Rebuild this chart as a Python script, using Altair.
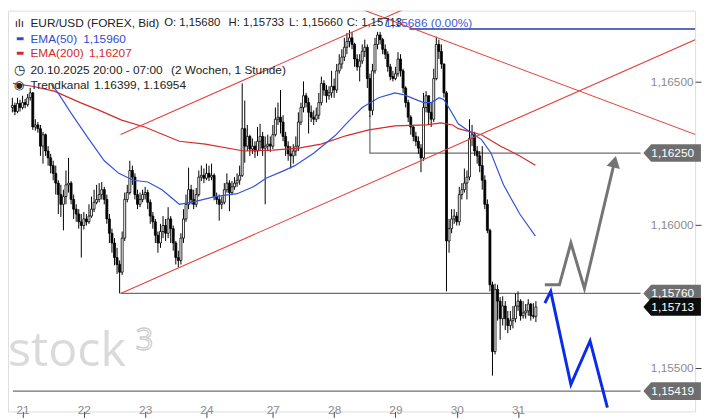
import altair as alt
import pandas as pd

# ---------------- data (hourly candles, index 0 = 20.10.2025 20:00) ----------------
open0 = 1.16409
close = [1.16416,1.16395,1.16423,1.16409,1.16426,1.16419,1.16443,1.16460,1.16341,1.16348,
         1.16335,1.16274,1.16314,1.16257,1.16233,1.16206,1.16179,1.16145,1.16105,1.16071,
         1.16098,1.16139,1.16145,1.16088,1.16054,1.16037,1.16010,1.15997,1.16020,1.16010,
         1.16030,1.16054,1.16078,1.16088,1.16105,1.16122,1.16088,1.16020,1.15970,1.15936,
         1.15885,1.15861,1.15834,1.15953,1.16088,1.16112,1.16189,1.16166,1.16105,1.16071,
         1.16088,1.16105,1.16112,1.16078,1.16030,1.16010,1.15963,1.15936,1.15976,1.15997,
         1.15970,1.16020,1.15986,1.15936,1.15885,1.15875,1.15953,1.16020,1.16071,1.16122,
         1.16088,1.16071,1.16105,1.16166,1.16172,1.16162,1.16179,1.16166,1.16172,1.16098,
         1.16088,1.16071,1.16078,1.16122,1.16145,1.16112,1.16132,1.16145,1.16155,1.16172,
         1.16335,1.16274,1.16308,1.16264,1.16274,1.16257,1.16291,1.16308,1.16267,1.16274,
         1.16281,1.16274,1.16314,1.16368,1.16375,1.16358,1.16308,1.16274,1.16247,1.16240,
         1.16257,1.16274,1.16358,1.16409,1.16450,1.16426,1.16392,1.16375,1.16368,1.16382,
         1.16426,1.16493,1.16470,1.16450,1.16460,1.16483,1.16470,1.16537,1.16561,1.16585,
         1.16619,1.16639,1.16652,1.16629,1.16578,1.16551,1.16571,1.16605,1.16619,1.16510,
         1.16399,1.16537,1.16629,1.16662,1.16646,1.16612,1.16595,1.16551,1.16517,1.16510,
         1.16527,1.16578,1.16537,1.16477,1.16426,1.16375,1.16341,1.16308,1.16291,1.16267,
         1.16233,1.16409,1.16450,1.16392,1.16368,1.16510,1.16629,1.16605,1.16561,1.16460,
         1.15943,1.15986,1.16020,1.16030,1.16010,1.16105,1.16122,1.16145,1.16166,1.16301,
         1.16314,1.16257,1.16240,1.16206,1.16155,1.16071,1.15980,1.15790,1.15557,1.15774,
         1.15733,1.15672,1.15716,1.15672,1.15648,1.15665,1.15672,1.15716,1.15733,1.15682,
         1.15692,1.15699,1.15723,1.15682,1.15680,1.15713]
high = [1.16443,1.16426,1.16443,1.16436,1.16450,1.16439,1.16456,1.16477,1.16463,1.16368,
        1.16358,1.16348,1.16324,1.16318,1.16274,1.16247,1.16223,1.16206,1.16155,1.16139,
        1.16122,1.16189,1.16233,1.16152,1.16105,1.16071,1.16054,1.16037,1.16044,1.16037,
        1.16071,1.16098,1.16122,1.16139,1.16145,1.16149,1.16132,1.16105,1.16037,1.15986,
        1.15953,1.15919,1.15875,1.15976,1.16112,1.16139,1.16223,1.16206,1.16179,1.16122,
        1.16112,1.16122,1.16132,1.16122,1.16088,1.16044,1.16020,1.15976,1.16003,1.16030,
        1.16020,1.16061,1.16030,1.15997,1.15943,1.15909,1.15970,1.16054,1.16105,1.16199,
        1.16139,1.16122,1.16128,1.16189,1.16206,1.16196,1.16213,1.16206,1.16213,1.16179,
        1.16112,1.16105,1.16098,1.16145,1.16179,1.16155,1.16152,1.16166,1.16179,1.16206,
        1.16493,1.16433,1.16348,1.16314,1.16301,1.16291,1.16341,1.16352,1.16324,1.16308,
        1.16314,1.16308,1.16348,1.16409,1.16426,1.16470,1.16382,1.16324,1.16291,1.16274,
        1.16281,1.16308,1.16392,1.16426,1.16500,1.16460,1.16443,1.16416,1.16399,1.16409,
        1.16460,1.16517,1.16504,1.16487,1.16483,1.16537,1.16510,1.16561,1.16595,1.16612,
        1.16652,1.16669,1.16679,1.16673,1.16635,1.16595,1.16595,1.16629,1.16646,1.16629,
        1.16527,1.16561,1.16652,1.16673,1.16673,1.16652,1.16629,1.16605,1.16561,1.16537,
        1.16551,1.16602,1.16595,1.16544,1.16483,1.16436,1.16382,1.16348,1.16324,1.16308,
        1.16281,1.16460,1.16466,1.16450,1.16426,1.16544,1.16656,1.16646,1.16629,1.16561,
        1.16466,1.16020,1.16054,1.16054,1.16044,1.16132,1.16145,1.16196,1.16189,1.16368,
        1.16348,1.16324,1.16274,1.16257,1.16274,1.16172,1.16088,1.15986,1.15801,1.15794,
        1.15790,1.15747,1.15750,1.15733,1.15699,1.15699,1.15716,1.15760,1.15767,1.15740,
        1.15733,1.15723,1.15740,1.15726,1.15726,1.15733]
low = [1.16392,1.16382,1.16389,1.16395,1.16402,1.16406,1.16412,1.16433,1.16331,1.16328,
       1.16321,1.16240,1.16213,1.16240,1.16206,1.16179,1.16155,1.16105,1.16037,1.16027,
       1.15980,1.16071,1.16112,1.16071,1.16020,1.16010,1.15986,1.15885,1.15983,1.15997,
       1.16003,1.16024,1.16044,1.16071,1.16078,1.16088,1.16071,1.16003,1.15936,1.15902,
       1.15858,1.15828,1.15760,1.15824,1.15943,1.16078,1.16105,1.16139,1.16088,1.16054,
       1.16061,1.16078,1.16088,1.16054,1.16003,1.15986,1.15936,1.15902,1.15919,1.15953,
       1.15943,1.15953,1.15936,1.15909,1.15861,1.15851,1.15861,1.15936,1.16010,1.16054,
       1.16071,1.16054,1.16061,1.16098,1.16152,1.16145,1.16155,1.16152,1.16155,1.16085,
       1.16071,1.16014,1.16054,1.16071,1.16112,1.16047,1.16105,1.16122,1.16132,1.16139,
       1.16166,1.16216,1.16257,1.16240,1.16247,1.16233,1.16240,1.16257,1.16240,1.16071,
       1.16257,1.16254,1.16264,1.16308,1.16348,1.16318,1.16291,1.16240,1.16223,1.16196,
       1.16213,1.16240,1.16257,1.16348,1.16392,1.16409,1.16318,1.16358,1.16348,1.16358,
       1.16368,1.16416,1.16450,1.16426,1.16436,1.16443,1.16443,1.16460,1.16527,1.16544,
       1.16571,1.16595,1.16619,1.16612,1.16551,1.16537,1.16500,1.16561,1.16585,1.16477,
       1.16375,1.16382,1.16527,1.16612,1.16629,1.16595,1.16578,1.16534,1.16504,1.16500,
       1.16504,1.16517,1.16517,1.16460,1.16409,1.16358,1.16314,1.16291,1.16274,1.16247,
       1.16183,1.16223,1.16392,1.16348,1.16341,1.16358,1.16504,1.16578,1.16544,1.16443,
       1.15767,1.15902,1.15970,1.16003,1.15997,1.15997,1.16088,1.16112,1.16088,1.16155,
       1.16274,1.16240,1.16213,1.16183,1.16122,1.16054,1.15970,1.15767,1.15473,1.15547,
       1.15665,1.15598,1.15648,1.15632,1.15621,1.15632,1.15638,1.15659,1.15699,1.15665,
       1.15672,1.15672,1.15682,1.15665,1.15672,1.15660]

day_ticks = [4, 28, 52, 76, 102, 126, 150, 174, 198]
day_labels = ["21", "22", "23", "24", "27", "28", "29", "30", "31"]
price_ticks = [1.155, 1.16, 1.165]

ema50_i = [15.3, 17.9, 22.8, 29.2, 36.0, 41.7, 47.3, 53.0, 58.6, 65.4, 71.8, 79.3, 88.0, 94.4,
           99.3, 105.7, 110.6, 118.1, 126.4, 132.1, 137.0, 143.4, 149.8, 153.5, 157.3, 161.1,
           164.1, 167.1, 169.0, 170.9, 174.6, 179.1, 183.7, 187.4, 192.3, 198.7, 204.8]
ema50_p = [1.16490, 1.16460, 1.16392, 1.16308, 1.16223, 1.16179, 1.16155, 1.16149, 1.16122,
           1.16071, 1.16081, 1.16098, 1.16108, 1.16132, 1.16162, 1.16186, 1.16206, 1.16250,
           1.16311, 1.16365, 1.16409, 1.16443, 1.16460, 1.16453, 1.16439, 1.16426, 1.16426,
           1.16443, 1.16436, 1.16409, 1.16352, 1.16324, 1.16297, 1.16250, 1.16139, 1.16037,
           1.15960]
ema200_i = [0.23, 7.8, 16.4, 26.6, 34.1, 42.8, 51.8, 65.4, 75.6, 90.6, 101.9, 112.1, 120.8,
            130.9, 139.6, 149.8, 162.2, 167.8, 172.4, 174.6, 183.7, 191.2, 198.7, 204.8]
ema200_p = [1.16493, 1.16483, 1.16466, 1.16426, 1.16399, 1.16365, 1.16341, 1.16291, 1.16281,
            1.16257, 1.16260, 1.16267, 1.16281, 1.16311, 1.16331, 1.16345, 1.16348, 1.16355,
            1.16348, 1.16335, 1.16314, 1.16274, 1.16240, 1.16207]

channel_upper_i = [42.4, 160.0]
channel_upper_p = [1.16315, 1.16778]
channel_lower_i = [42.4, 270.0]
channel_lower_p = [1.15760, 1.16656]
resistance_i = [137.3, 270.0]
resistance_p = [1.16750, 1.16306]

level_a_i = [140.0, 140.0, 246.0]
level_a_p = [1.16382, 1.16250, 1.16250]
level_b_i = [42.4, 246.0]
level_b_p = [1.15760, 1.15760]
level_c_i = [0.23, 246.0]
level_c_p = [1.15419, 1.15419]
quote_i = [155.5, 270.0]
quote_p = [1.16683, 1.16683]

scen_up_i = [208.5, 214.2, 218.7, 224.0, 235.8]
scen_up_p = [1.15790, 1.15790, 1.15936, 1.15777, 1.16220]
scen_down_i = [208.5, 210.8, 218.7, 226.2, 233.0]
scen_down_p = [1.15726, 1.15767, 1.15442, 1.15594, 1.15361]

tag_values = [1.16250, 1.15760, 1.15419, 1.15713]
tag_labels = ["1,16250", "1,15760", "1,15419", "1,15713"]
tag_fills = ["#6e6e6e", "#6e6e6e", "#6e6e6e", "#0d0d0d"]

# ---------------- layout helpers (reference pixels -> plot pixels) ----------------
W, H = 696, 406
SX, SY = W / 704.0, H / 414.0


def px(x):
    return x * SX


def py(y):
    return y * SY


FONT = "Liberation Sans"
xs = alt.Scale(domain=[0.23, 265.4], nice=False, zero=False)
ys = alt.Scale(domain=[1.15348, 1.16747], nice=False, zero=False)

label_map = "{" + ",".join(f"'{t}':'{l}'" for t, l in zip(day_ticks, day_labels)) + "}"
x_axis = alt.Axis(values=day_ticks, labelExpr=f"{label_map}[datum.value]", domain=False,
                  grid=False, tickSize=6, tickColor="#444444", labelColor="#8c8c8c",
                  labelFontSize=12, labelFont=FONT, labelPadding=-4,
                  labelBaseline="alphabetic", title=None, labelOverlap=False)
y_axis = alt.Axis(orient="right", values=price_ticks,
                  labelExpr="replace(format(datum.value, '.5f'), '.', ',')",
                  domain=False, grid=False, tickSize=6, tickColor="#444444",
                  labelColor="#8c8c8c", labelFontSize=12, labelFont=FONT,
                  labelAlign="right", labelPadding=-8, labelBaseline="middle", title=None,
                  labelOverlap=False)


def X(field):
    return alt.X(field, scale=xs, axis=x_axis)


def Y(field):
    return alt.Y(field, scale=ys, axis=y_axis)


# ---------------- candles ----------------
opens = [open0] + close[:-1]
df = pd.DataFrame({"i": list(range(len(close))), "o": opens, "c": close, "h": high, "l": low})
df["h"] = df[["h", "o", "c"]].max(axis=1)
df["l"] = df[["l", "o", "c"]].min(axis=1)

wicks = alt.Chart(df).mark_rule(color="#000000", strokeWidth=1).encode(
    x=X("i:Q"), y=Y("l:Q"), y2="h:Q")
bodies = alt.Chart(df).mark_bar(size=2, stroke="#000000", strokeWidth=0.8).encode(
    x=X("i:Q"), y=Y("o:Q"), y2="c:Q",
    fill=alt.condition("datum.c > datum.o", alt.value("#ffffff"), alt.value("#000000")))


def path(iv, pv, color, width):
    d = pd.DataFrame({"i": iv, "p": pv, "k": list(range(len(iv)))})
    return alt.Chart(d).mark_line(color=color, strokeWidth=width, clip=True,
                                  strokeJoin="miter").encode(
        x=X("i:Q"), y=Y("p:Q"), order="k:Q")


red_line = "#e3413b"
layers = [
    path(level_a_i, level_a_p, "#6f6f6f", 1.3),
    path(level_b_i, level_b_p, "#6f6f6f", 1.3),
    path(level_c_i, level_c_p, "#6f6f6f", 1.3),
    path(quote_i, quote_p, "#1f3c9c", 1.4),
    wicks, bodies,
    path(ema200_i, ema200_p, "#d42a2a", 1.2),
    path(ema50_i, ema50_p, "#3352db", 1.2),
    path(channel_upper_i, channel_upper_p, red_line, 1.1),
    path(channel_lower_i, channel_lower_p, red_line, 1.1),
    path(resistance_i, resistance_p, red_line, 1.1),
    path(scen_up_i, scen_up_p, "#757575", 3),
    path(scen_down_i, scen_down_p, "#0a2be8", 3),
]

# arrow head of the grey scenario
head = pd.DataFrame({"i": [scen_up_i[-1]], "p": [scen_up_p[-1]]})
layers.append(alt.Chart(head).mark_point(shape="triangle-up", filled=True, color="#757575",
                                         size=190, angle=13, opacity=1).encode(
    x=X("i:Q"), y=Y("p:Q")))

# price tags on the right
tags = pd.DataFrame({"p": tag_values, "t": tag_labels, "f": tag_fills})
tag_shape = "M -1 0 L -0.73 -0.305 L 1 -0.305 L 1 0.305 L -0.73 0.305 Z"
side = px(59)
layers.append(alt.Chart(tags).mark_point(shape=tag_shape, filled=True, size=side * side,
                                         opacity=1, strokeWidth=0).encode(
    x=alt.value(px(680.5)), y=Y("p:Q"), fill=alt.Fill("f:N", scale=None)))
layers.append(alt.Chart(tags).mark_text(align="right", baseline="middle", color="#ffffff",
                                        fontSize=12, font=FONT).encode(
    x=alt.value(px(703)), y=Y("p:Q"), text="t:N"))


def label(text, x, y, color, size=12, font=FONT, **kw):
    return alt.Chart(pd.DataFrame({"t": [text]})).mark_text(
        align="left", baseline=kw.pop("baseline", "middle"), fontSize=size, font=font,
        color=color, **kw).encode(x=alt.value(px(x)), y=alt.value(py(y)), text="t:N")


# watermark
layers.append(label("stock", 0, 367, "#dadada", 49, "Open Sans", baseline="alphabetic"))
layers.append(alt.Chart(pd.DataFrame({"t": ["3"]})).mark_text(
    align="left", baseline="alphabetic", fontSize=31, font="Open Sans", fill="#ffffff",
    stroke="#cdcdcd", strokeWidth=1.3).encode(
    x=alt.value(px(131)), y=alt.value(py(351)), text="t:N"))

# legend (top left)
dark, blue, red = "#222222", "#2f4bd4", "#d22a2a"
legend_rows = [
    ("1,15686 (0.00%)", 386, 13, "#3d5bd9", 12),
    ("EUR/USD (FOREX, Bid)", 23, 13, dark, 12),
    ("O: 1,15680", 160, 13, dark, 11.5),
    ("H: 1,15733", 226, 13, dark, 11.5),
    ("L: 1,15660", 288, 13, dark, 11.5),
    ("C: 1,15713", 347, 13, dark, 11.5),
    ("EMA(50)", 23, 29, blue, 12),
    ("1,15960", 77, 29, blue, 12),
    ("EMA(200)", 23, 44, red, 12),
    ("1,16207", 83, 44, red, 12),
    ("20.10.2025 20:00 - 07:00", 23, 61, dark, 12),
    ("(2 Wochen, 1 Stunde)", 167, 61, dark, 12),
    ("Trendkanal", 23, 77, dark, 12),
    ("1.16399, 1.16954", 88, 77, dark, 12),
    ("ılı", 7, 13, dark, 12),
    ("◷", 6, 61, dark, 13),
    ("◉", 6, 77, dark, 12),
]
for t, x, y, c, s in legend_rows:
    layers.append(label(t, x, y, c, s))

for ypos, col in [(29, "#2f4bd4"), (44, "#d22a2a")]:
    layers.append(alt.Chart(pd.DataFrame({"a": [0]})).mark_rule(color=col, strokeWidth=3).encode(
        x=alt.value(px(9)), x2=alt.value(px(16)), y=alt.value(py(ypos))))

chart = alt.layer(*layers).properties(width=W, height=H, padding=0).configure_view(
    strokeWidth=0).configure(background="#ffffff")

chart.save("out.html", embed_options={"renderer": "svg", "actions": False})
